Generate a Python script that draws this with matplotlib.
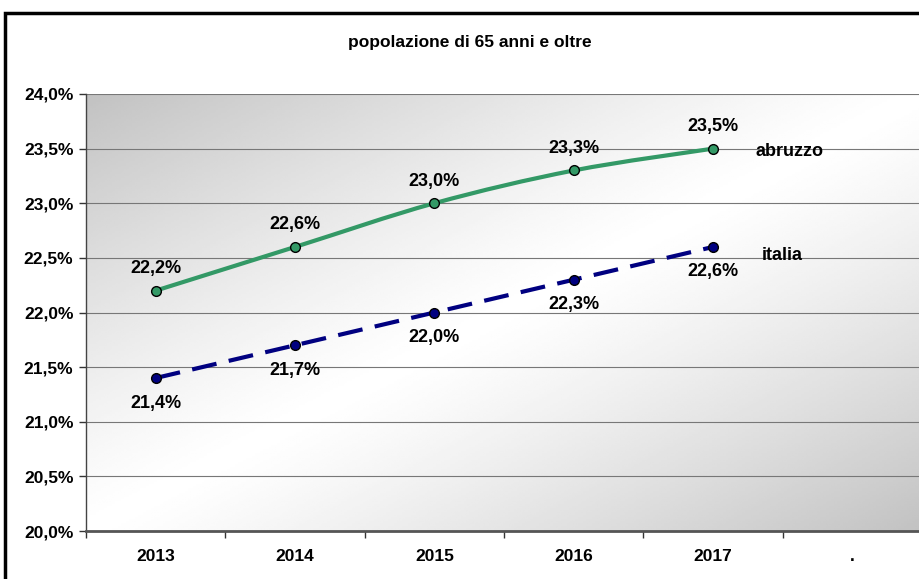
import numpy as np
import matplotlib
matplotlib.use('Agg')
import matplotlib.pyplot as plt
from matplotlib.path import Path
from matplotlib.patches import PathPatch, Rectangle

plt.rcParams['font.family'] = ['Liberation Sans', 'DejaVu Sans']

# data
anni = ['2013', '2014', '2015', '2016', '2017', '.']
abruzzo = [22.2, 22.6, 23.0, 23.3, 23.5]
italia = [21.4, 21.7, 22.0, 22.3, 22.6]
y_ticks = [20.0, 20.5, 21.0, 21.5, 22.0, 22.5, 23.0, 23.5, 24.0]


def smooth_path(xs, ys, t=1 / 6):
    # excel-like smoothed line (catmull-rom as cubic bezier)
    pts = np.column_stack([xs, ys])
    verts = [pts[0]]
    codes = [Path.MOVETO]
    n = len(pts)
    for i in range(n - 1):
        p0 = pts[max(i - 1, 0)]
        p1 = pts[i]
        p2 = pts[i + 1]
        p3 = pts[min(i + 2, n - 1)]
        c1 = p1 + (p2 - p0) * t
        c2 = p2 - (p3 - p1) * t
        verts += [c1, c2, p2]
        codes += [Path.CURVE4] * 3
    return Path(verts, codes)


fig = plt.figure(figsize=(9.2, 5.79), dpi=100)
ax = fig.add_axes([86 / 920, 1 - 531 / 579, 836 / 920, 437 / 579])

# gradient background: dark top-left and bottom-right, light in the middle
gx, gy = np.meshgrid(np.linspace(0, 1, 300), np.linspace(0, 1, 200))
d = np.abs((gx + gy) / 2 - 0.5) * 2
shade = 1 - 0.24 * d ** 1.2
ax.imshow(shade, cmap='gray', vmin=0, vmax=1, extent=[-0.5, 5.5, 20, 24],
          aspect='auto', origin='upper', zorder=0)

ax.set_xlim(-0.5, 5.5)
ax.set_ylim(20, 24)

x = np.arange(len(abruzzo))

for ys, col, ls in [(abruzzo, '#339966', '-'), (italia, '#000080', (0, (6, 3)))]:
    patch = PathPatch(smooth_path(x, ys), facecolor='none', edgecolor=col,
                      linewidth=3, linestyle=ls, zorder=3, capstyle='butt')
    ax.add_patch(patch)
    ax.plot(x, ys, linestyle='none', marker='o', markersize=7,
            markerfacecolor=col, markeredgecolor='black', markeredgewidth=1, zorder=4)

for xi, v in zip(x, abruzzo):
    ax.annotate(f'{v:.1f}%'.replace('.', ','), (xi, v), xytext=(0, 16),
                textcoords='offset points', ha='center', va='center',
                fontsize=13, fontweight='bold', zorder=5)
for xi, v in zip(x, italia):
    ax.annotate(f'{v:.1f}%'.replace('.', ','), (xi, v), xytext=(0, -18),
                textcoords='offset points', ha='center', va='center',
                fontsize=13, fontweight='bold', zorder=5)

ax.text(4.55, 23.47, 'abruzzo', ha='center', va='center', fontsize=13, fontweight='bold')
ax.text(4.5, 22.52, 'italia', ha='center', va='center', fontsize=13, fontweight='bold')

# axes styling
ax.set_yticks(y_ticks)
ax.set_yticklabels([f'{v:.1f}%'.replace('.', ',') for v in y_ticks],
                   fontsize=12.5, fontweight='bold')
ax.yaxis.grid(True, color='#777777', linewidth=0.8, zorder=1)
ax.set_axisbelow(True)

ax.set_xticks(np.arange(len(anni)))
ax.set_xticklabels(anni, fontsize=12.5, fontweight='bold')
ax.tick_params(axis='x', length=0, pad=13)
ax.set_xticks(np.arange(-0.5, 6, 1), minor=True)
ax.tick_params(axis='x', which='minor', length=5, width=1, color='#333333', direction='out')
ax.tick_params(axis='y', length=5, width=1, color='#333333', direction='out', pad=4)

ax.spines['top'].set_visible(False)
ax.spines['right'].set_visible(False)
ax.spines['left'].set_color('#444444')
ax.spines['left'].set_linewidth(1)
ax.spines['bottom'].set_color('#555555')
ax.spines['bottom'].set_linewidth(2)

fig.text(470 / 920, 1 - 42 / 579, 'popolazione di 65 anni e oltre', ha='center',
         va='center', fontsize=12.5, fontweight='bold')

# outer frame
fig.add_artist(Rectangle((5 / 920, -0.1), 1.1, 1 - 13 / 579 + 0.1, transform=fig.transFigure,
                         fill=False, edgecolor='black', linewidth=2.5))

fig.savefig('out.png', dpi=100)
